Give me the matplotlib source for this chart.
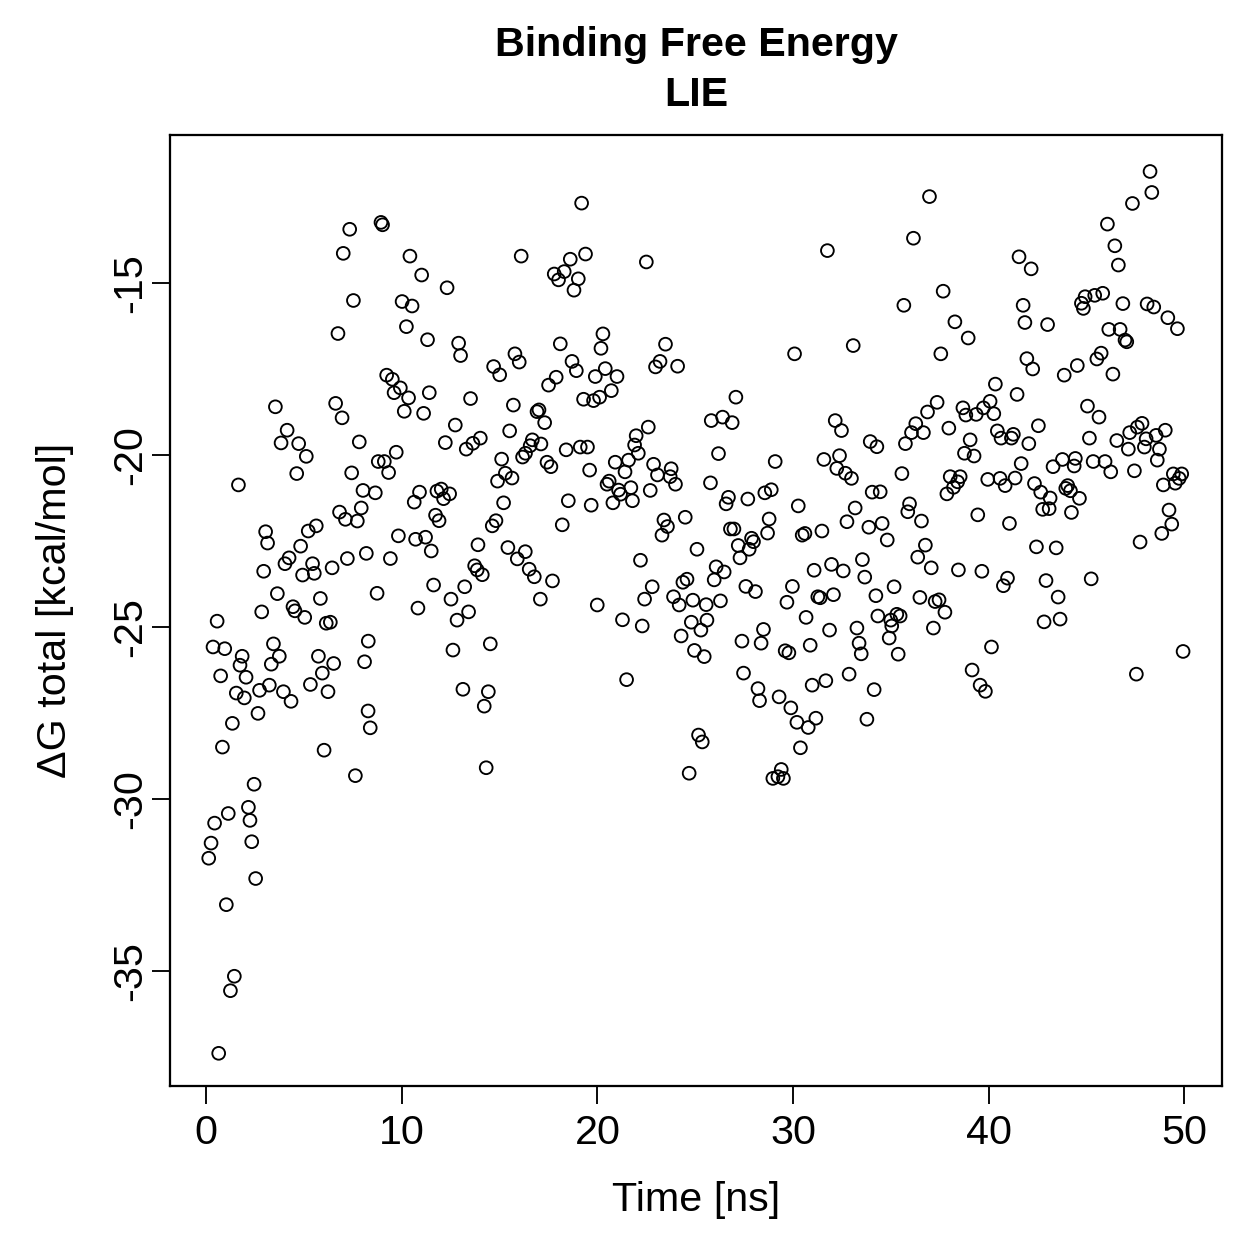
import numpy as np
import matplotlib
matplotlib.use("Agg")
import matplotlib.pyplot as plt

plt.rcParams['font.family'] = ['Liberation Sans', 'DejaVu Sans']

#%% data (time in ns, dG in kcal/mol)
time_ns = [
    0.12, 0.24, 0.34, 0.42, 0.55, 0.63, 0.73, 0.82, 0.94, 1.02,
    1.12, 1.23, 1.33, 1.43, 1.53, 1.64, 1.72, 1.83, 1.94, 2.03,
    2.15, 2.23, 2.32, 2.44, 2.52, 2.64, 2.72, 2.83, 2.93, 3.03,
    3.13, 3.22, 3.32, 3.43, 3.53, 3.63, 3.73, 3.82, 3.94, 4.02,
    4.13, 4.23, 4.33, 4.43, 4.53, 4.62, 4.72, 4.82, 4.92, 5.03,
    5.11, 5.21, 5.32, 5.43, 5.52, 5.62, 5.73, 5.83, 5.93, 6.02,
    6.13, 6.22, 6.34, 6.43, 6.51, 6.61, 6.73, 6.81, 6.94, 7.00,
    7.11, 7.21, 7.33, 7.43, 7.52, 7.62, 7.72, 7.82, 7.92, 8.01,
    8.09, 8.18, 8.28, 8.27, 8.38, 8.64, 8.73, 8.79, 8.93, 9.01,
    9.10, 9.22, 9.32, 9.41, 9.51, 9.60, 9.71, 9.82, 9.92, 10.01,
    10.12, 10.23, 10.34, 10.41, 10.52, 10.63, 10.70, 10.82, 10.90, 11.01,
    11.11, 11.21, 11.31, 11.40, 11.50, 11.62, 11.72, 11.79, 11.90, 12.01,
    12.13, 12.22, 12.31, 12.44, 12.51, 12.61, 12.73, 12.82, 12.90, 13.00,
    13.12, 13.21, 13.29, 13.41, 13.51, 13.63, 13.72, 13.85, 13.89, 14.01,
    14.11, 14.21, 14.31, 14.42, 14.52, 14.62, 14.69, 14.81, 14.89, 15.00,
    15.10, 15.20, 15.29, 15.42, 15.51, 15.63, 15.70, 15.78, 15.90, 16.00,
    16.10, 16.17, 16.32, 16.31, 16.51, 16.56, 16.67, 16.77, 16.91, 17.01,
    17.08, 17.11, 17.30, 17.42, 17.50, 17.62, 17.70, 17.79, 17.89, 18.01,
    18.10, 18.20, 18.30, 18.40, 18.51, 18.61, 18.70, 18.80, 18.92, 19.02,
    19.12, 19.19, 19.29, 19.39, 19.49, 19.60, 19.68, 19.80, 19.89, 19.99,
    20.11, 20.18, 20.28, 20.40, 20.49, 20.60, 20.71, 20.79, 20.91, 21.00,
    21.08, 21.18, 21.28, 21.41, 21.49, 21.59, 21.71, 21.79, 21.90, 21.98,
    22.09, 22.20, 22.29, 22.41, 22.50, 22.60, 22.70, 22.80, 22.87, 22.97,
    23.07, 23.20, 23.30, 23.40, 23.48, 23.58, 23.72, 23.77, 23.89, 23.99,
    24.10, 24.18, 24.28, 24.37, 24.49, 24.58, 24.69, 24.80, 24.88, 24.96,
    25.09, 25.17, 25.29, 25.36, 25.46, 25.56, 25.60, 25.82, 25.78, 25.97,
    26.07, 26.19, 26.29, 26.40, 26.48, 26.58, 26.70, 26.80, 26.89, 26.98,
    27.08, 27.20, 27.29, 27.39, 27.47, 27.59, 27.69, 27.76, 27.88, 27.98,
    28.08, 28.21, 28.29, 28.37, 28.49, 28.56, 28.70, 28.78, 28.89, 28.97,
    29.09, 29.23, 29.29, 29.40, 29.51, 29.60, 29.69, 29.79, 29.89, 29.97,
    30.08, 30.20, 30.27, 30.38, 30.47, 30.61, 30.67, 30.78, 30.88, 30.98,
    31.08, 31.17, 31.27, 31.39, 31.48, 31.58, 31.68, 31.76, 31.87, 31.97,
    32.07, 32.16, 32.24, 32.38, 32.48, 32.57, 32.68, 32.76, 32.87, 32.99,
    33.08, 33.18, 33.27, 33.38, 33.49, 33.55, 33.67, 33.78, 33.88, 33.95,
    34.05, 34.15, 34.24, 34.29, 34.34, 34.46, 34.56, 34.82, 34.92, 35.00,
    35.05, 35.17, 35.31, 35.38, 35.48, 35.57, 35.67, 35.75, 35.87, 35.96,
    36.06, 36.16, 36.28, 36.38, 36.49, 36.57, 36.67, 36.77, 36.88, 36.98,
    37.07, 37.18, 37.27, 37.37, 37.47, 37.56, 37.68, 37.77, 37.87, 37.97,
    38.04, 38.21, 38.28, 38.42, 38.46, 38.55, 38.69, 38.77, 38.84, 38.96,
    39.06, 39.16, 39.26, 39.37, 39.45, 39.57, 39.66, 39.74, 39.84, 39.96,
    40.08, 40.15, 40.27, 40.35, 40.45, 40.59, 40.64, 40.76, 40.85, 40.97,
    41.07, 41.17, 41.27, 41.36, 41.46, 41.56, 41.67, 41.77, 41.86, 41.96,
    42.06, 42.18, 42.26, 42.35, 42.45, 42.55, 42.67, 42.77, 42.84, 42.94,
    43.02, 43.10, 43.15, 43.30, 43.46, 43.56, 43.66, 43.78, 43.87, 43.95,
    44.05, 44.19, 44.24, 44.38, 44.44, 44.54, 44.65, 44.75, 44.85, 44.94,
    45.06, 45.16, 45.25, 45.35, 45.43, 45.54, 45.65, 45.76, 45.84, 45.96,
    46.08, 46.15, 46.25, 46.36, 46.46, 46.56, 46.64, 46.73, 46.87, 46.98,
    47.07, 47.15, 47.22, 47.36, 47.46, 47.56, 47.61, 47.75, 47.85, 47.97,
    48.06, 48.11, 48.26, 48.35, 48.45, 48.57, 48.63, 48.74, 48.86, 48.94,
    49.04, 49.17, 49.23, 49.37, 49.45, 49.55, 49.66, 49.75, 49.88, 49.95,
]

dg_total = [
    -31.72, -31.28, -25.58, -30.70, -24.83, -37.39, -26.42, -28.49, -25.63, -33.07,
    -30.42, -35.57, -27.80, -35.15, -26.92, -20.87, -26.11, -25.85, -27.06, -26.46,
    -30.24, -30.62, -31.24, -29.57, -32.31, -27.51, -26.84, -24.56, -23.38, -22.23,
    -22.56, -26.69, -26.08, -25.49, -18.60, -24.03, -25.85, -19.65, -26.88, -23.16,
    -19.28, -22.99, -27.16, -24.41, -24.53, -20.54, -19.67, -22.65, -23.49, -24.72,
    -20.04, -22.21, -26.67, -23.16, -23.44, -22.06, -25.85, -24.17, -26.34, -28.58,
    -24.89, -26.88, -24.86, -23.28, -26.06, -18.50, -16.47, -21.66, -18.92, -14.14,
    -21.87, -23.01, -13.44, -20.52, -15.51, -29.32, -21.92, -19.62, -21.54, -21.03,
    -26.01, -22.86, -25.41, -27.44, -27.93, -21.10, -24.02, -20.19, -13.24, -13.31,
    -20.19, -17.68, -20.51, -23.01, -17.80, -18.19, -19.92, -22.35, -18.05, -15.54,
    -18.73, -16.27, -18.34, -14.22, -15.67, -21.37, -22.45, -24.45, -21.08, -14.77,
    -18.79, -22.39, -16.65, -18.19, -22.79, -23.78, -21.75, -21.05, -21.91, -20.99,
    -21.27, -19.64, -15.14, -21.13, -24.19, -25.67, -19.13, -24.80, -16.75, -17.11,
    -26.81, -23.83, -19.83, -24.56, -18.36, -19.66, -23.22, -23.34, -22.61, -19.51,
    -23.48, -27.30, -29.09, -26.88, -25.49, -22.06, -17.43, -21.91, -20.76, -17.67,
    -20.12, -21.39, -20.53, -22.69, -19.30, -20.67, -18.55, -17.06, -23.02, -17.30,
    -14.22, -20.06, -19.95, -22.81, -23.32, -19.73, -19.56, -23.54, -18.74, -18.69,
    -24.19, -19.68, -19.06, -20.21, -17.97, -20.34, -23.66, -14.74, -17.74, -14.91,
    -16.77, -22.03, -14.67, -19.85, -21.33, -14.31, -17.28, -15.21, -17.55, -14.88,
    -19.77, -12.68, -18.38, -14.16, -19.77, -20.44, -21.46, -18.42, -17.72, -24.36,
    -18.32, -16.90, -16.48, -17.49, -20.85, -20.76, -18.13, -21.39, -20.21, -17.72,
    -21.02, -21.14, -24.79, -20.49, -26.53, -20.15, -20.95, -21.33, -19.71, -19.44,
    -19.95, -23.06, -24.97, -24.19, -14.39, -19.19, -21.03, -23.83, -20.27, -17.44,
    -20.58, -17.28, -22.33, -21.89, -16.78, -22.08, -20.63, -20.40, -24.12, -20.85,
    -17.42, -24.36, -25.26, -23.70, -21.81, -23.61, -29.25, -24.86, -24.22, -25.68,
    -22.74, -28.14, -25.09, -28.34, -25.86, -24.35, -24.80, -19.00, -20.81, -23.63,
    -23.25, -19.96, -24.24, -18.90, -23.40, -21.42, -21.23, -22.15, -19.06, -22.15,
    -18.32, -22.63, -22.99, -25.41, -26.34, -23.82, -21.28, -22.74, -22.42, -22.52,
    -23.97, -26.79, -27.14, -25.47, -25.07, -21.10, -22.27, -21.86, -21.01, -29.40,
    -20.19, -29.35, -27.03, -29.14, -29.40, -25.69, -24.28, -25.75, -27.35, -23.82,
    -17.06, -27.77, -21.48, -28.51, -22.33, -22.28, -24.72, -27.92, -25.53, -26.69,
    -23.35, -27.65, -24.12, -24.15, -22.21, -20.13, -26.56, -14.06, -25.09, -23.18,
    -24.06, -19.00, -20.39, -20.02, -19.29, -23.37, -20.53, -21.94, -26.37, -20.68,
    -16.82, -21.54, -25.03, -25.47, -25.78, -23.04, -23.55, -27.68, -22.10, -19.61,
    -21.08, -26.82, -24.09, -19.76, -24.68, -21.07, -21.99, -22.47, -25.32, -24.80,
    -24.97, -23.83, -24.63, -25.79, -24.68, -20.54, -15.65, -19.67, -21.65, -21.42,
    -19.35, -13.70, -19.09, -22.97, -24.14, -21.92, -19.35, -22.62, -18.75, -12.49,
    -23.28, -25.03, -24.26, -18.47, -24.21, -17.06, -15.24, -24.57, -21.13, -19.22,
    -20.63, -20.94, -16.13, -20.78, -23.34, -20.63, -18.63, -19.95, -18.84, -16.60,
    -19.56, -26.25, -20.03, -18.82, -21.74, -26.69, -23.38, -18.63, -26.87, -20.71,
    -18.44, -25.58, -18.80, -17.94, -19.30, -20.68, -19.51, -23.80, -20.89, -23.58,
    -21.99, -19.51, -19.40, -20.67, -18.24, -14.24, -20.25, -15.65, -16.15, -17.20,
    -19.67, -14.59, -17.50, -20.83, -22.67, -19.15, -21.08, -21.58, -24.85, -23.65,
    -16.21, -21.56, -21.25, -20.34, -22.70, -24.13, -24.77, -20.13, -17.68, -20.97,
    -20.89, -21.04, -21.67, -20.32, -20.10, -17.40, -21.26, -15.59, -15.74, -15.40,
    -18.58, -19.51, -23.60, -20.19, -15.36, -17.21, -18.90, -17.04, -15.30, -20.19,
    -13.29, -16.35, -20.49, -17.65, -13.92, -19.58, -14.48, -16.35, -15.60, -16.66,
    -16.71, -19.83, -19.35, -12.69, -20.46, -26.37, -19.19, -22.53, -19.08, -19.77,
    -19.53, -15.61, -11.76, -12.37, -15.70, -19.43, -20.15, -19.83, -22.28, -20.87,
    -19.28, -16.01, -21.60, -22.01, -20.55, -20.82, -16.33, -20.68, -20.55, -25.71,
]

x_ticks = [0, 10, 20, 30, 40, 50]
y_ticks = [-35, -30, -25, -20, -15]

#%% figure setting
fig = plt.figure(figsize=(1259 / 180, 1259 / 180), dpi=180)
ax = fig.add_axes([170 / 1259, 1 - 1086 / 1259, 1052 / 1259, 951 / 1259])

ax.scatter(time_ns, dg_total, s=26, facecolors='none', edgecolors='black',
           linewidths=0.75)

ax.set_xlim(-1.86, 51.94)
ax.set_ylim(-38.34, -10.70)
ax.set_xticks(x_ticks)
ax.set_yticks(y_ticks)
ax.set_xticklabels([str(v) for v in x_ticks])
ax.set_yticklabels([str(v) for v in y_ticks], rotation=90, va='center')

for s in ax.spines.values():
    s.set_linewidth(0.9)
ax.tick_params(axis='both', direction='out', length=7.2, width=0.75,
               labelsize=16.5, color='black')
ax.tick_params(axis='x', pad=4)
ax.tick_params(axis='y', pad=1)

fs = 16.5
ax.set_xlabel('Time [ns]', fontsize=fs, va='center')
ax.xaxis.set_label_coords(0.5, (1086 - 1200) / 951)
ax.set_ylabel('\u0394G total [kcal/mol]', fontsize=fs, va='center')
ax.yaxis.set_label_coords((55 - 170) / 1052, 0.5)

# two-line bold title, centred over the plot box
fig.text(696 / 1259, 1 - 45 / 1259, 'Binding Free Energy', fontsize=fs,
         fontweight='bold', ha='center', va='center')
fig.text(696 / 1259, 1 - 95 / 1259, 'LIE', fontsize=fs,
         fontweight='bold', ha='center', va='center')

fig.savefig('out.png', dpi=180)
